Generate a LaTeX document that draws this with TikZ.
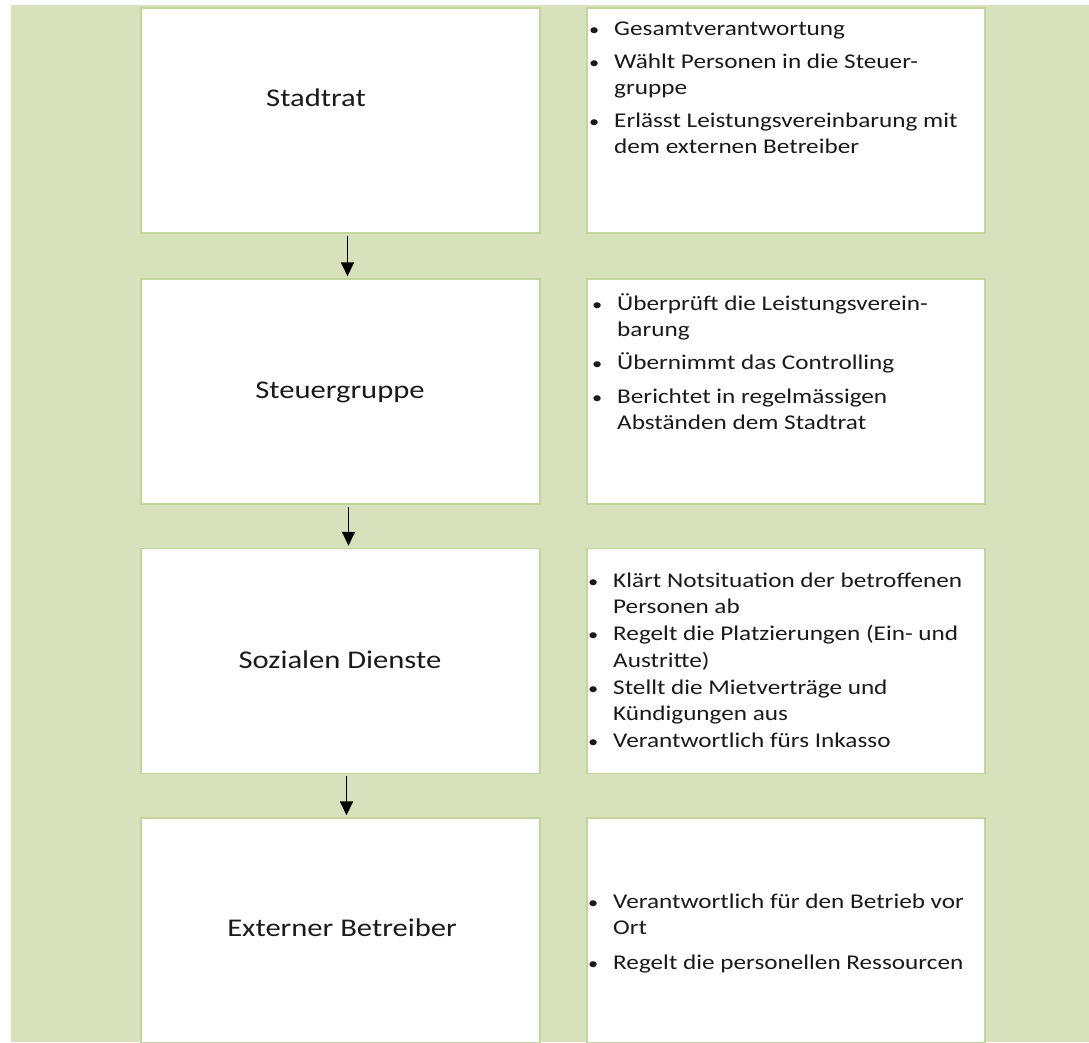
\documentclass[tikz,border=0pt]{standalone}
\usepackage{fontspec}
\setmainfont{Carlito}[FakeStretch=1.2]
\usetikzlibrary{arrows.meta}
\definecolor{bg}{HTML}{D7E2BD}
\definecolor{edge}{HTML}{C2D59D}
\definecolor{txt}{HTML}{1A1A1A}
\tikzset{
  lbox/.style={draw=edge, line width=1.5pt, fill=white, inner sep=0pt, minimum width=399pt, minimum height=225pt},
  rbox/.style={draw=edge, line width=1.5pt, fill=white, inner sep=0pt, minimum width=398pt, minimum height=225pt},
  ttl/.style={anchor=base, inner sep=0pt, text=txt, font=\fontsize{25.5}{30}\selectfont},
  ln/.style={anchor=base west, inner sep=0pt, text=txt, font=\fontsize{21}{25}\selectfont},
  bl/.style={ln, execute at begin node={\llap{{\fontsize{17}{20}\selectfont\textbullet}\hspace{15pt}}}},
  flow/.style={line width=1.7pt, -{Triangle[width=13pt,length=14pt]}}
}
\begin{document}
\begin{tikzpicture}[x=1pt,y=-1pt]
\useasboundingbox (0,0) rectangle (1089,1042);
\fill[bg] (11,5) rectangle (1089,1042);
\begin{scope}
\clip (0,0) rectangle (1089,1042);
% left boxes
\node[lbox] (s1) at (340.5,120.5) {};
\node[lbox] (s2) at (340.5,391.5) {};
\node[lbox] (s3) at (340.5,661) {};
\node[lbox] (s4) at (340.5,930.5) {};
% right boxes
\node[rbox] (r1) at (786,120.5) {};
\node[rbox] (r2) at (786,391.5) {};
\node[rbox] (r3) at (786,661) {};
\node[rbox] (r4) at (786,930.5) {};
\end{scope}
% titles
\node[ttl] (t1) at (316,106) {Stadtrat};
\node[ttl] (t2) at (340,398) {Steuergruppe};
\node[ttl] (t3) at (340,668) {Sozialen Dienste};
\node[ttl] (t4) at (342,936) {Externer Betreiber};
% arrows
\draw[flow] ([xshift=7pt,yshift=-2pt]s1.south) -- ([xshift=7pt,yshift=2pt]s2.north);
\draw[flow] ([xshift=8pt,yshift=-2pt]s2.south) -- ([xshift=8pt,yshift=2pt]s3.north);
\draw[flow] ([xshift=6pt,yshift=-2pt]s3.south) -- ([xshift=6pt,yshift=2pt]s4.north);
% box 1 text
\node[bl] (a1) at (614,35) {Gesamtverantwortung};
\node[bl] (a2) at (614,68) {Wählt Personen in die Steuer-};
\node[ln] (a3) at (614,94) {gruppe};
\node[bl] (a4) at (614,127) {Erlässt Leistungsvereinbarung mit};
\node[ln] (a5) at (614,153) {dem externen Betreiber};
% box 2 text
\node[bl] (b1) at (617,310) {Überprüft die Leistungsverein-};
\node[ln] (b2) at (617,336) {barung};
\node[bl] (b3) at (617,369) {Übernimmt das Controlling};
\node[bl] (b4) at (617,403) {Berichtet in regelmässigen};
\node[ln] (b5) at (617,429) {Abständen dem Stadtrat};
% box 3 text
\node[bl] (c1) at (613,587) {Klärt Notsituation der betroffenen};
\node[ln] (c2) at (613,613) {Personen ab};
\node[bl] (c3) at (613,640) {Regelt die Platzierungen (Ein- und};
\node[ln] (c4) at (613,667) {Austritte)};
\node[bl] (c5) at (613,694) {Stellt die Mietverträge und};
\node[ln] (c6) at (613,720) {Kündigungen aus};
\node[bl] (c7) at (613,747) {Verantwortlich fürs Inkasso};
% box 4 text
\node[bl] (d1) at (613,908) {Verantwortlich für den Betrieb vor};
\node[ln] (d2) at (613,934) {Ort};
\node[bl] (d3) at (613,969) {Regelt die personellen Ressourcen};
\end{tikzpicture}
\end{document}
